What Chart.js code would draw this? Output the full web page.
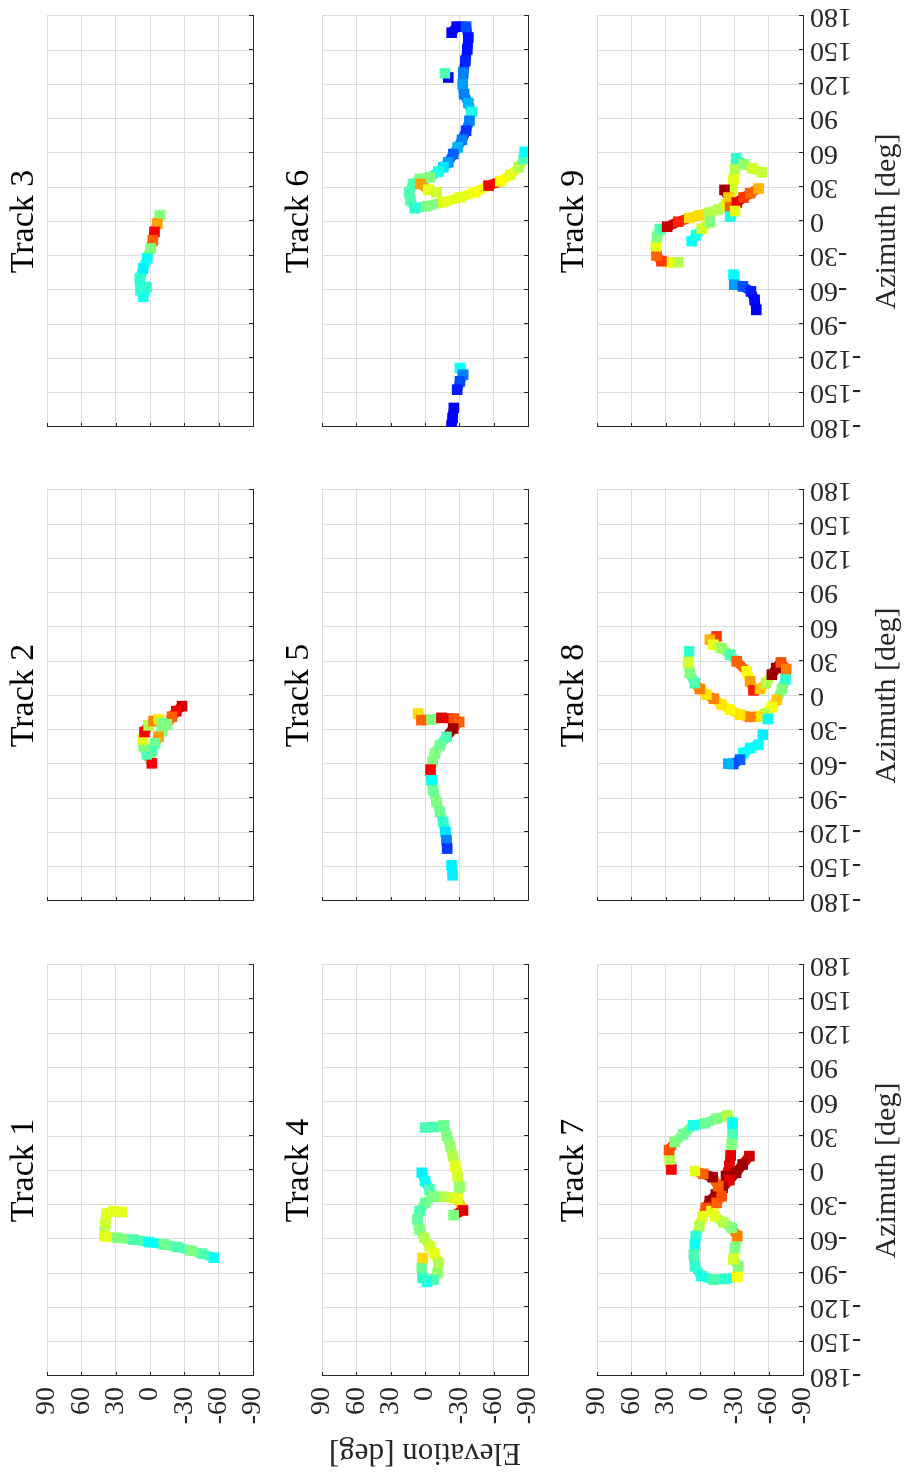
<!DOCTYPE html>
<html>
<head>
<meta charset="utf-8">
<script src="https://cdn.jsdelivr.net/npm/chart.js@4.4.1/dist/chart.umd.min.js"></script>
<style>
  html, body { margin: 0; padding: 0; background: #fff; overflow: hidden; }
  #fig {
    position: absolute; left: 0; top: 0; width: 1475px; height: 909px;
    transform-origin: 0 0; transform: translateY(1475px) rotate(-90deg);
  }
  #fig canvas { position: absolute; }
</style>
</head>
<body>
<div id="fig"></div>
<script>
// azimuth / elevation in degrees, colour value 0..1 (jet), null = gap in the track
const az1 = [-36.4, -35.5, -37.8, -46.6, -53.9, -57.7, -58.9, -60.6, -62.7, -64.7, -67.0, -70.0, -72.9, -76.4];
const el1 = [24.4, 31.7, 38.1, 39.0, 39.6, 39.9, 28.8, 14.2, 1.1, -12.0, -23.7, -35.4, -45.6, -55.8];
const c1  = [0.6, 0.6, 0.6, 0.58, 0.55, 0.6, 0.5, 0.45, 0.38, 0.48, 0.45, 0.5, 0.45, 0.38];

const az2 = [-9.3, -13.7, -18.6, -25.3, -31.2, -36.1, -42.0, -48.7, -54.5, -59.4, -51.6, -44.3, -38.5, -32.0, -26.2, -22.4, -21.0, -23.9];
const el2 = [-28.0, -23.0, -19.2, -14.8, -10.4, -7.5, -4.5, -1.6, -0.1, -1.6, 2.8, 5.7, 6.3, 4.8, 1.3, -3.1, -7.5, -10.4];
const c2  = [0.92, 0.88, 0.78, 0.5, 0.5, 0.72, 0.48, 0.45, 0.5, 0.88, 0.45, 0.5, 0.6, 0.88, 0.55, 0.75, 0.65, 0.5];

const az3 = [5.6, -1.7, -9.1, -16.4, -23.7, -32.4, -41.2, -50.0, -60.2, -66.0, -57.3];
const el3 = [-8.6, -6.3, -3.9, -2.5, -0.4, 2.5, 6.0, 8.9, 8.3, 6.0, 3.1];
const c3  = [0.5, 0.72, 0.88, 0.78, 0.5, 0.38, 0.36, 0.42, 0.42, 0.4, 0.42];

const az4 = [37.5, 38.1, null,
  39.5, 30.2, 21.4, 12.6, 3.9, -4.9, -14.3, -24.8, -35.0, -39.1, null,
  -2.0, -9.3, -16.6, -22.5, -23.0, -23.9, -24.8, null,
  -22.5, -28.3, -35.6, -42.9, -51.7, -59.0, -66.3, -72.7, -80.9, -89.7, -95.6, -97.6, -94.1, -85.3, -76.6];
const el4 = [-0.1, -7.5, null,
  -16.2, -19.2, -22.1, -24.4, -26.5, -28.5, -30.3, -28.5, -33.2, -25.0, null,
  2.8, -0.1, -4.0, -7.5, -16.2, -23.6, -28.5, null,
  -7.5, -0.1, 4.8, 6.6, 4.8, 0.7, -4.0, -8.3, -11.9, -11.0, -7.5, -1.6, 2.2, 2.8, 1.9];
const c4  = [0.45, 0.45, null,
  0.48, 0.5, 0.52, 0.55, 0.6, 0.58, 0.52, 0.68, 0.9, 0.5, null,
  0.36, 0.38, 0.45, 0.5, 0.55, 0.58, 0.6, null,
  0.5, 0.48, 0.45, 0.47, 0.5, 0.55, 0.58, 0.6, 0.55, 0.52, 0.45, 0.4, 0.42, 0.48, 0.66];

const az5 = [-15.8, -21.6, -21.0, -19.6, -20.2, -23.1, -28.9, -36.2, -43.5, -50.8, -58.1, -64.9, -74.2, -83.0, -93.2, -102.0, -110.7, -119.5, -126.8, -134.1, null, -148.7, -157.5];
const el5 = [6.0, 3.1, -5.7, -14.4, -25.2, -29.9, -24.6, -18.8, -13.0, -8.6, -6.6, -4.8, -5.7, -7.1, -10.1, -13.0, -15.9, -17.9, -18.8, -19.4, null, -23.2, -24.1];
const c5  = [0.66, 0.78, 0.5, 0.9, 0.8, 0.78, 0.97, 0.45, 0.48, 0.5, 0.5, 0.88, 0.38, 0.48, 0.5, 0.48, 0.42, 0.35, 0.25, 0.18, null, 0.36, 0.36];

const az6 = [165.4, 170.7, 170.7, 161.1, 150.9, 140.7, 130.5, 120.3, 111.5, 103.7, 96.1, 88.2, 79.5, 71.6, 64.9, 59.1, 51.8, 47.5, 43.7, 38.7,
  37.3, 32.9, 25.6, 18.3, 11.6, 13.4, 16.9, 21.2, 25.6, 31.4, 35.2, 40.8, 47.5, 54.7, 61.1, null,
  32.9, 27.9, 25.6, null, 126.1, 129.9, null,
  -128.3, -134.2, -140.0, -147.3, null, -163.3, -172.1, -178.8];
const el6 = [-23.3, -27.7, -35.9, -37.9, -37.0, -35.3, -33.5, -32.9, -34.1, -37.9, -40.8, -38.8, -35.9, -32.3, -28.5, -24.7, -20.3, -16.0, -11.6, -4.2,
  4.5, 10.4, 13.9, 12.7, 8.9, -1.3, -16.0, -30.6, -43.8, -55.5, -65.7, -74.5, -81.8, -86.2, -87.1, null,
  4.0, -2.8, -10.1, null, -20.3, -17.4, null,
  -30.5, -33.4, -30.5, -28.1, null, -25.2, -24.1, -23.2];
const c6  = [0.12, 0.12, 0.2, 0.14, 0.14, 0.16, 0.25, 0.28, 0.25, 0.3, 0.4, 0.25, 0.18, 0.25, 0.3, 0.22, 0.28, 0.35, 0.4, 0.5,
  0.5, 0.45, 0.45, 0.45, 0.42, 0.5, 0.6, 0.6, 0.62, 0.88, 0.62, 0.6, 0.55, 0.45, 0.38, null,
  0.72, 0.6, 0.58, null, 0.12, 0.45, null,
  0.38, 0.25, 0.2, 0.15, null, 0.12, 0.12, 0.12];

const az7 = [0.9, 9.7, 17.9, 24.9, 31.6, 39.5, 41.3, 45.4, 48.3, 41.9, 31.6, 22.9, 13.2, 3.9, -4.9, null,
  12.6, 5.3, -2.0, -8.4, -15.1, -21.0, -26.8, -32.7, -40.0, -48.8, -57.5, -64.9, null,
  -73.6, -83.9, -92.6, -95.6, -95.0, -93.2, -83.9, -78.0, -67.8, -57.5, -50.2, -45.3, -40.0, -35.6, -28.3, -22.5, -13.7, -5.8, -2.9, -0.5];
const el7 = [25.0, 26.5, 27.1, 22.1, 14.8, 6.0, -4.2, -14.5, -23.9, -28.5, -28.5, -27.7, -26.8, -25.6, -22.7, null,
  -43.2, -37.3, -31.5, -25.6, -19.8, -13.9, -8.6, -5.1, -2.2, 0.7, 3.7, 4.5, null,
  5.4, 4.5, -1.3, -11.6, -21.8, -32.6, -33.5, -29.1, -30.6, -32.6, -27.7, -20.3, -13.0, -10.1, -14.5, -18.9, -16.0, -11.0, -2.8, 4.5];
const c7  = [0.88, 0.55, 0.8, 0.5, 0.48, 0.4, 0.48, 0.5, 0.55, 0.38, 0.45, 0.5, 0.9, 0.9, 0.97, null,
  0.92, 0.97, 0.97, 0.9, 0.97, 0.97, 0.97, 0.8, 0.6, 0.55, 0.42, 0.38, null,
  0.45, 0.42, 0.4, 0.45, 0.42, 0.62, 0.5, 0.58, 0.5, 0.75, 0.5, 0.55, 0.6, 0.6, 0.78, 0.8, 0.78, 0.97, 0.78, 0.6];

const az8 = [51.8, 48.9, 44.5, 41.6, 35.8, 29.9, 21.2, 12.4, 4.5, 5.7, 10.9, 18.2, 24.1, 29.0, 23.2, 13.9, 5.7, -3.7, -10.1, -15.9,
  -18.3, -18.8, -16.8, -12.4, -8.0, -2.8, 0.7, 5.7, 10.9, 19.7, 28.5, 38.7, null,
  -20.6, null, -34.3, null, -43.1, -46.0, -50.4, -56.2, -60.0, -59.7];
const el8 = [-14.5, -8.6, -11.6, -18.9, -26.2, -32.1, -40.8, -43.8, -46.7, -52.5, -57.8, -62.8, -66.6, -70.7, -75.4, -74.8, -71.6, -67.2, -62.8, -56.9,
  -51.1, -43.8, -35.0, -26.2, -18.9, -12.1, -5.7, 0.1, 4.5, 8.9, 10.4, 9.5, null,
  -59.3, null, -54.9, null, -51.1, -43.8, -37.9, -35.0, -29.1, -24.7];
const c8  = [0.82, 0.7, 0.6, 0.52, 0.45, 0.78, 0.62, 0.72, 0.85, 0.68, 0.55, 0.97, 0.97, 0.8, 0.75, 0.42, 0.5, 0.68, 0.62, 0.55,
  0.65, 0.75, 0.65, 0.63, 0.65, 0.75, 0.65, 0.75, 0.45, 0.5, 0.58, 0.42, null,
  0.38, null, 0.36, null, 0.38, 0.38, 0.38, 0.22, 0.2, 0.3];

const az9 = [-35.7, -35.7, -34.8, -29.8, -21.6, -13.4, -6.9, -4.6, -0.2, 3.1, 5.4, 7.8, 10.7, 15.1, 21.0, 28.3, 37.1, 45.9, 55.3, 50.3, 46.5, 43.0, null,
  -17.2, -12.2, -6.3, -0.5, null,
  27.7, 21.0, 12.2, 16.6, 21.0, 24.8, 28.9, null,
  4.2, 9.2, null,
  -46.5, -55.3, -56.8, -61.2, -68.6, -77.4];
const el9 = [19.0, 27.8, 33.7, 38.0, 38.6, 37.5, 35.1, 28.7, 19.0, 9.4, 0.6, -8.2, -16.1, -22.8, -26.3, -27.8, -29.3, -30.7, -31.6, -38.1, -45.4, -54.2, null,
  7.3, 3.5, -1.5, -8.8, null,
  -21.4, -24.9, -26.3, -32.2, -38.1, -43.9, -51.2, null,
  -26.3, -30.7, null,
  -29.3, -29.9, -37.5, -44.5, -47.7, -49.2];
const c9  = [0.55, 0.62, 0.82, 0.78, 0.6, 0.5, 0.45, 0.93, 0.84, 0.66, 0.66, 0.55, 0.55, 0.6, 0.65, 0.58, 0.6, 0.55, 0.42, 0.52, 0.58, 0.57, null,
  0.38, 0.4, 0.58, 0.5, null,
  0.97, 0.68, 0.78, 0.9, 0.82, 0.78, 0.7, null,
  0.4, 0.6, null,
  0.38, 0.28, 0.2, 0.15, 0.13, 0.1];

const titles = ['Track 1', 'Track 2', 'Track 3', 'Track 4', 'Track 5', 'Track 6', 'Track 7', 'Track 8', 'Track 9'];
const azTicks = [-180, 180, 30];   // min, max, step
const elTicks = [-90, 90, 30];

const tracks = [[az1, el1, c1], [az2, el2, c2], [az3, el3, c3], [az4, el4, c4], [az5, el5, c5],
  [az6, el6, c6], [az7, el7, c7], [az8, el8, c8], [az9, el9, c9]];

// layout of the unrotated figure (1475 x 909), then the whole thing is turned 90 deg
const X0 = [99, 574, 1048], Y0 = [47, 322, 597];
const PW = 411, PH = 206;
const L = 100, R = 24, T = 50, B = 106;
const FONT = "'Liberation Serif', 'DejaVu Serif', serif";
const AXIS = '#262626';

function jet(v) {
  if (v == null) return 'rgba(0,0,0,0)';
  const f = t => Math.round(255 * Math.max(0, Math.min(1, 1.5 - Math.abs(4 * v - t))));
  return `rgb(${f(3)},${f(2)},${f(1)})`;
}

// MATLAB style ticks pointing into the axes
const inwardTicks = {
  id: 'inwardTicks',
  beforeDatasetsDraw(chart) {
    const { ctx, chartArea: a, scales: { x, y } } = chart;
    ctx.save();
    ctx.strokeStyle = AXIS;
    ctx.lineWidth = 1;
    ctx.beginPath();
    x.ticks.forEach(t => {
      const p = Math.round(x.getPixelForValue(t.value)) + 0.5;
      ctx.moveTo(p, a.bottom); ctx.lineTo(p, a.bottom - 4);
    });
    y.ticks.forEach(t => {
      const p = Math.round(y.getPixelForValue(t.value)) + 0.5;
      ctx.moveTo(a.left, p); ctx.lineTo(a.left + 4, p);
    });
    ctx.stroke();
    ctx.restore();
  }
};

const fig = document.getElementById('fig');

tracks.forEach(([az, el, cv], i) => {
  const row = Math.floor(i / 3), col = i % 3;
  const canvas = document.createElement('canvas');
  const w = L + PW + R, h = T + PH + B;
  canvas.width = w; canvas.height = h;
  canvas.style.width = w + 'px'; canvas.style.height = h + 'px';
  canvas.style.left = (X0[col] - L) + 'px';
  canvas.style.top = (Y0[row] - T) + 'px';
  fig.appendChild(canvas);

  new Chart(canvas, {
    type: 'scatter',
    data: {
      datasets: [{
        data: az.map((a, k) => ({ x: a, y: el[k] })),
        showLine: true,
        borderWidth: 10,
        borderColor: jet(0.5),
        segment: { borderColor: s => jet(cv[s.p0DataIndex]) },
        pointStyle: 'rect',
        pointRadius: 7.5,
        pointHoverRadius: 7.5,
        pointBorderWidth: 0,
        pointBackgroundColor: cv.map(jet)
      }]
    },
    options: {
      responsive: false,
      animation: false,
      events: [],
      layout: { padding: { left: 0, right: R, top: 0, bottom: 0 } },
      plugins: {
        legend: { display: false },
        tooltip: { enabled: false },
        title: {
          display: true, text: titles[i], fullSize: false, color: '#000',
          font: { family: FONT, size: 34, weight: 'normal', lineHeight: 1 },
          padding: { top: 10, bottom: 6 }
        }
      },
      scales: {
        x: {
          type: 'linear', min: azTicks[0], max: azTicks[1],
          afterFit: s => { s.height = B; s.paddingLeft = 0; s.paddingRight = 0; },
          grid: { color: '#dcdcdc', drawTicks: false },
          border: { color: AXIS, width: 1 },
          ticks: {
            display: row === 2, stepSize: azTicks[2], autoSkip: false,
            minRotation: 90, maxRotation: 90, padding: 7, color: AXIS,
            font: { family: FONT, size: 28 }
          },
          title: {
            display: row === 2, text: 'Azimuth [deg]', color: AXIS,
            font: { family: FONT, size: 30, lineHeight: 1 },
            padding: { top: 0, bottom: 7 }
          }
        },
        y: {
          type: 'linear', min: elTicks[0], max: elTicks[1],
          afterFit: s => { s.width = L; s.paddingTop = 0; s.paddingBottom = 0; },
          grid: { color: '#dcdcdc', drawTicks: false },
          border: { color: AXIS, width: 1 },
          ticks: {
            display: col === 0, stepSize: elTicks[2], autoSkip: false, padding: 11, color: AXIS,
            font: { family: FONT, size: 28 }
          },
          title: {
            display: i === 3, text: 'Elevation [deg]', color: AXIS,
            font: { family: FONT, size: 31, lineHeight: 1 },
            padding: { top: 8.5, bottom: 0 }
          }
        }
      }
    },
    plugins: [inwardTicks]
  });
});
</script>
</body>
</html>
